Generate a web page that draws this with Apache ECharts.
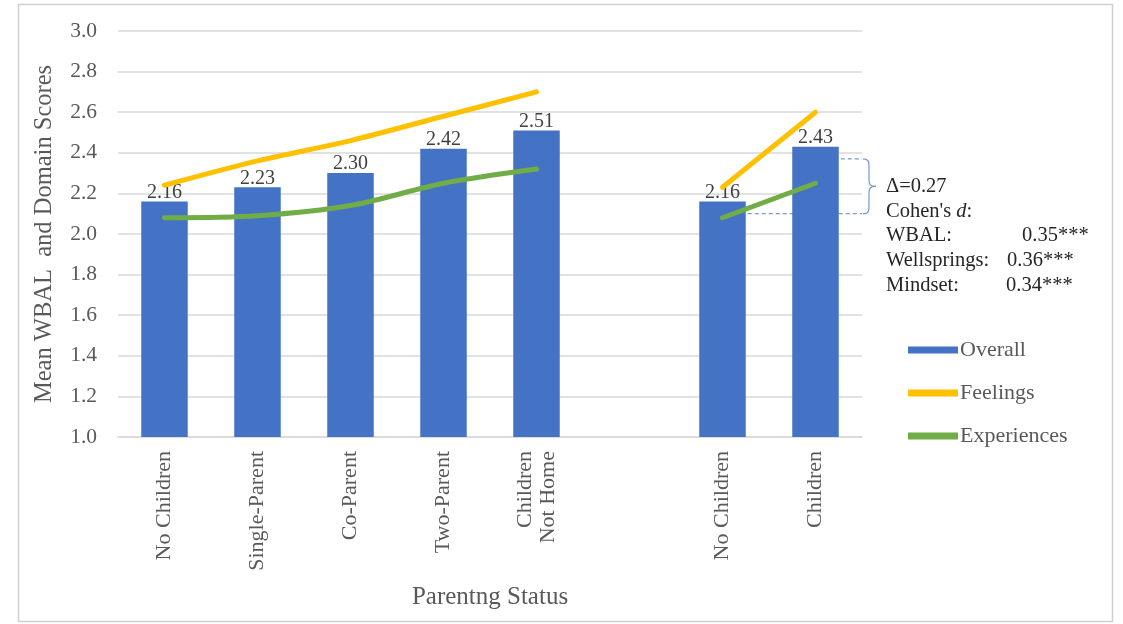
<!DOCTYPE html>
<html>
<head>
<meta charset="utf-8">
<script src="https://cdn.jsdelivr.net/npm/echarts@6/dist/echarts.min.js"></script>
<style>
  html, body { margin: 0; padding: 0; background: #ffffff; }
  #chart { width: 1123px; height: 624px; }
</style>
</head>
<body>
<div id="chart"></div>
<script>
// Parenting status groups; the empty category separates the two comparisons.
const categories = ['No Children', 'Single-Parent', 'Co-Parent', 'Two-Parent', 'Children\nNot Home', '', 'No Children', 'Children'];

// Mean scores per group
const overall     = [2.16, 2.23, 2.30, 2.42, 2.51, null, 2.16, 2.43];
const feelings    = [2.24, 2.36, 2.46, 2.58, 2.70, null, 2.23, 2.60];
const experiences = [2.08, 2.09, 2.14, 2.25, 2.32, null, 2.08, 2.25];

// Y axis range
const yMin = 1.0;
const yMax = 3.0;
const yStep = 0.2;

// Difference between parents and non-parents, with effect sizes
const deltaValue = 0.27;
const bracketTop = 2.37;
const effectSizes = [
  ['WBAL:', '0.35***'],
  ['Wellsprings:', '0.36***'],
  ['Mindset:', '0.34***']
];

const FONT = 'Liberation Serif';
const TEXT_GREY = '#595959';

const chart = echarts.init(document.getElementById('chart'), null, { renderer: 'canvas' });

const option = {
  backgroundColor: '#ffffff',
  animation: false,
  textStyle: { fontFamily: FONT },
  grid: { left: 118, right: 261, top: 31, bottom: 187, containLabel: false },
  legend: {
    orient: 'vertical',
    left: 903,
    top: 334,
    itemWidth: 50,
    itemHeight: 7,
    itemGap: 21,
    icon: 'rect',
    textStyle: { fontFamily: FONT, fontSize: 22, lineHeight: 21, color: TEXT_GREY, padding: [0, 0, 0, -3] },
    data: ['Overall', 'Feelings', 'Experiences']
  },
  xAxis: {
    type: 'category',
    data: categories,
    boundaryGap: true,
    name: 'Parentng Status',
    nameLocation: 'middle',
    nameGap: 148,
    nameTextStyle: { fontFamily: FONT, fontSize: 25, color: TEXT_GREY },
    axisLine: { lineStyle: { color: '#d9d9d9', width: 1.5 } },
    axisTick: { show: false },
    axisLabel: {
      rotate: 90,
      interval: 0,
      margin: 14,
      fontFamily: FONT,
      fontSize: 22,
      color: TEXT_GREY,
      lineHeight: 23
    }
  },
  yAxis: {
    type: 'value',
    min: yMin,
    max: yMax,
    interval: yStep,
    name: 'Mean WBAL  and Domain Scores',
    nameLocation: 'middle',
    nameGap: 61,
    nameTextStyle: { fontFamily: FONT, fontSize: 24.5, color: TEXT_GREY },
    axisLine: { show: false },
    axisTick: { show: false },
    axisLabel: {
      margin: 21,
      fontFamily: FONT,
      fontSize: 21.5,
      color: TEXT_GREY,
      formatter: v => v.toFixed(1)
    },
    splitLine: { lineStyle: { color: '#d9d9d9', width: 1.5 } }
  },
  series: [
    {
      name: 'Overall',
      type: 'bar',
      data: overall,
      barWidth: '50%',
      itemStyle: { color: '#4472C4' },
      label: {
        show: true,
        position: 'top',
        distance: -1,
        fontFamily: FONT,
        fontSize: 20,
        color: '#404040',
        formatter: p => p.value.toFixed(2)
      },
      z: 2
    },
    {
      name: 'Feelings',
      type: 'line',
      data: feelings,
      smooth: 0.3,
      showSymbol: false,
      connectNulls: false,
      itemStyle: { color: '#FFC000' },
      lineStyle: { color: '#FFC000', width: 5, cap: 'round' },
      z: 3
    },
    {
      name: 'Experiences',
      type: 'line',
      data: experiences,
      smooth: 0.3,
      showSymbol: false,
      connectNulls: false,
      itemStyle: { color: '#70AD47' },
      lineStyle: { color: '#70AD47', width: 5, cap: 'round' },
      z: 3
    }
  ]
};

chart.setOption(option);

// Annotation: dashed guides, a brace and the effect-size text, placed through the axes.
function toPx(catIndex, value) {
  return chart.convertToPixel({ xAxisIndex: 0, yAxisIndex: 0 }, [catIndex, value]);
}
const bracketBottom = +(bracketTop - deltaValue).toFixed(2);
const topPt = toPx(7, bracketTop);
const botPt = toPx(6, bracketBottom);
const bandW = toPx(7, yMin)[0] - toPx(6, yMin)[0];
const halfBar = bandW * 0.25;
const plotRight = toPx(7, yMin)[0] + bandW / 2;
const yT = topPt[1];
const yB = botPt[1];
const yM = (yT + yB) / 2;
const bx = plotRight + 1;
const guideColor = '#7f9cc9';
const braceStyle = { fill: null, stroke: guideColor, lineWidth: 1.3 };

const graphics = [
  {
    type: 'rect',
    shape: { x: 18.5, y: 4.5, width: 1094, height: 617 },
    style: { fill: null, stroke: '#d0d0d0', lineWidth: 1.5 },
    silent: true
  },
  {
    type: 'line',
    shape: { x1: topPt[0] + halfBar + 2, y1: yT, x2: plotRight, y2: yT },
    style: { stroke: guideColor, lineWidth: 1.3, lineDash: [4, 3] }
  },
  {
    type: 'line',
    shape: { x1: botPt[0] + halfBar + 2, y1: yB, x2: plotRight, y2: yB },
    style: { stroke: guideColor, lineWidth: 1.3, lineDash: [4, 3] }
  },
  // right-facing curly brace spanning the difference
  {
    type: 'bezierCurve',
    shape: { x1: bx, y1: yT, cpx1: bx + 6, cpy1: yT, cpx2: bx + 6, cpy2: yT + 3, x2: bx + 6, y2: yT + 9 },
    style: braceStyle
  },
  {
    type: 'line',
    shape: { x1: bx + 6, y1: yT + 9, x2: bx + 6, y2: yM - 6 },
    style: braceStyle
  },
  {
    type: 'bezierCurve',
    shape: { x1: bx + 6, y1: yM - 6, cpx1: bx + 6, cpy1: yM - 1, cpx2: bx + 8, cpy2: yM, x2: bx + 13, y2: yM },
    style: braceStyle
  },
  {
    type: 'bezierCurve',
    shape: { x1: bx + 13, y1: yM, cpx1: bx + 8, cpy1: yM, cpx2: bx + 6, cpy2: yM + 1, x2: bx + 6, y2: yM + 6 },
    style: braceStyle
  },
  {
    type: 'line',
    shape: { x1: bx + 6, y1: yM + 6, x2: bx + 6, y2: yB - 9 },
    style: braceStyle
  },
  {
    type: 'bezierCurve',
    shape: { x1: bx + 6, y1: yB - 9, cpx1: bx + 6, cpy1: yB - 3, cpx2: bx + 6, cpy2: yB, x2: bx, y2: yB },
    style: braceStyle
  }
];

const textX = 886;
const lineH = 24.6;
const firstY = yM + 1;
const txtStyle = { fontFamily: FONT, fontSize: 20.5, fill: '#262626' };

graphics.push({
  type: 'text', left: textX, top: firstY - 11,
  style: Object.assign({}, txtStyle, { text: '\u0394=' + deltaValue.toFixed(2) })
});
graphics.push({
  type: 'text', left: textX, top: firstY + lineH - 11,
  style: Object.assign({}, txtStyle, {
    text: "Cohen's {i|d}:",
    rich: { i: { fontFamily: FONT, fontSize: 20.5, fontStyle: 'italic', fill: '#262626' } }
  })
});
const valueX = [textX + 136, textX + 121, textX + 120];
effectSizes.forEach((row, i) => {
  const y = firstY + lineH * (i + 2) - 11;
  graphics.push({ type: 'text', left: textX, top: y, style: Object.assign({}, txtStyle, { text: row[0] }) });
  graphics.push({ type: 'text', left: valueX[i], top: y, style: Object.assign({}, txtStyle, { text: row[1] }) });
});

chart.setOption({ graphic: graphics });
</script>
</body>
</html>
